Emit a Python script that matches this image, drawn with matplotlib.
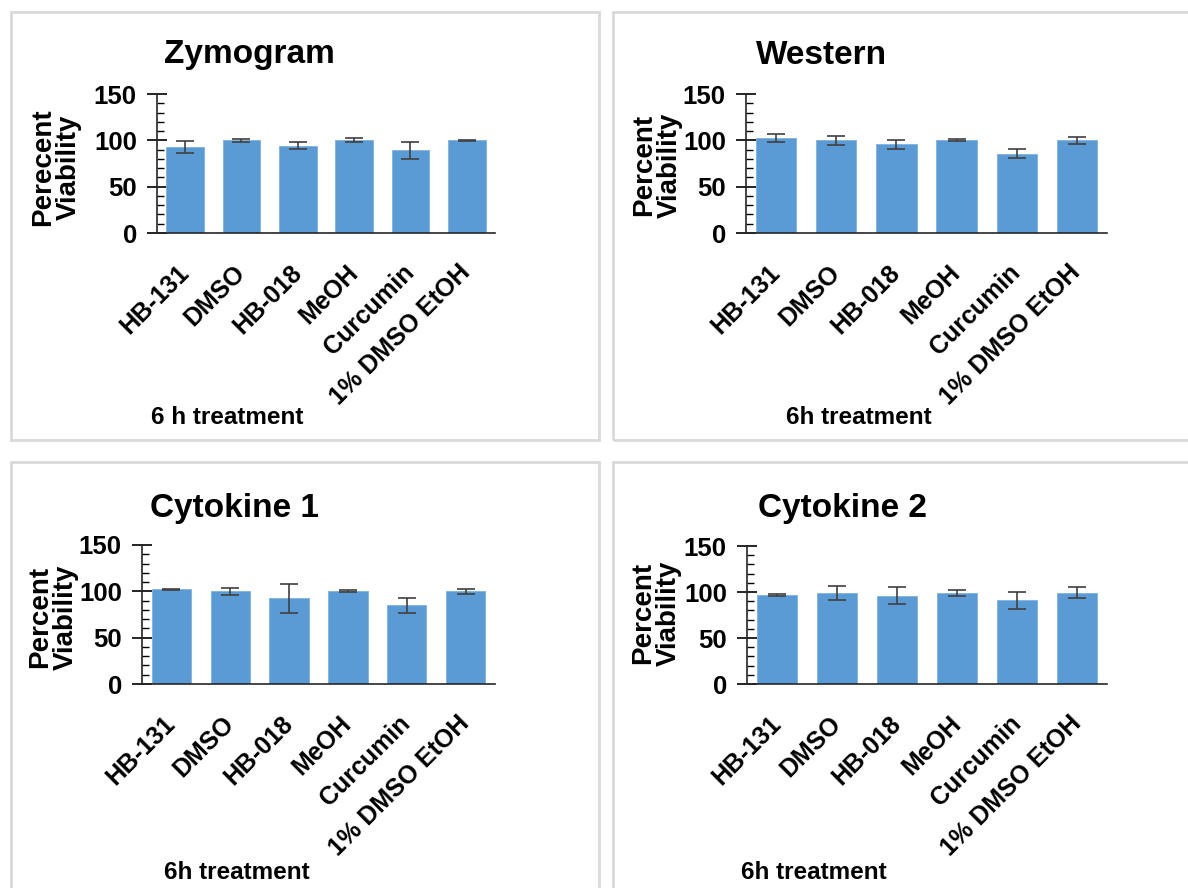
import matplotlib
matplotlib.use('Agg')
import matplotlib.pyplot as plt
from matplotlib.patches import Rectangle
from matplotlib.ticker import MultipleLocator

plt.rcParams['font.family'] = ['Liberation Sans', 'DejaVu Sans']
plt.rcParams['font.weight'] = 'bold'

treatments = ['HB-131', 'DMSO', 'HB-018', 'MeOH', 'Curcumin', '1% DMSO EtOH']

zymo_mean = [92.8, 100, 94.2, 100, 89.3, 100]
zymo_err = [7, 1.5, 4, 2, 9, 0.3]
western_mean = [102.8, 100, 95.7, 100, 85.6, 100]
western_err = [4.3, 4.7, 4.7, 1, 4.7, 4]
cyto1_mean = [102.4, 100, 92.3, 100, 85.1, 100]
cyto1_err = [0.5, 3.6, 16, 1, 8, 2.5]
cyto2_mean = [97, 99, 96, 99, 91, 99]
cyto2_err = [1, 8, 9, 3.5, 9.5, 6]

W, H = 1188, 888
fig = plt.figure(figsize=(W / 100, H / 100), dpi=100)

def px(x, y):
    return x / W, 1 - y / H

# panel frames (light grey boxes)
for (x0, y0, x1, y1) in [(11, 12, 599, 440), (613, 12, 1195, 440),
                         (11, 462, 599, 895), (613, 462, 1195, 895)]:
    fig.patches.append(Rectangle(px(x0, y1), (x1 - x0) / W, (y1 - y0) / H,
                                 transform=fig.transFigure, fill=False,
                                 edgecolor='#d9d9d9', linewidth=2))

panels = [
    # title, ylabel, xlabel, means, errs, axes box (left, right, top, zero), title pos, ylabel pos, xlabel pos
    ('Zymogram', 'Perecent\nViability', '6 h treatment', zymo_mean, zymo_err,
     (157, 495, 94, 233), (249, 55), (56, 167), (227, 417)),
    ('Western', 'Percent\nViability', '6h treatment', western_mean, western_err,
     (746, 1107, 94, 233), (822, 55), (657, 165), (859, 417)),
    ('Cytokine 1', 'Percent\nViability', '6h treatment', cyto1_mean, cyto1_err,
     (142, 495, 545, 684), (234, 508), (53, 617), (237, 872)),
    ('Cytokine 2', 'Percent\nViability', '6h treatment', cyto2_mean, cyto2_err,
     (747, 1107, 546, 684), (843, 508), (656, 613), (814, 872)),
]

for title, ylab, xlab, means, errs, box, tpos, ypos, xpos in panels:
    l, r, t, z = box
    ax = fig.add_axes([l / W, 1 - z / H, (r - l) / W, (z - t) / H])
    x = range(len(treatments))
    ax.bar(x, means, width=0.67, color='#5b9bd5', edgecolor='#7fb1e0', linewidth=0.6, zorder=2)
    ax.errorbar(x, means, yerr=errs, fmt='none', ecolor='#404040',
                elinewidth=1.2, capsize=6.5, capthick=1.2, zorder=3)
    ax.set_xlim(-0.5, len(treatments) - 0.5)
    ax.set_ylim(0, 150)
    ax.yaxis.set_major_locator(MultipleLocator(50))
    ax.yaxis.set_minor_locator(MultipleLocator(10))
    ax.tick_params(axis='y', which='major', direction='inout', length=15, width=1.2,
                   labelsize=18.5, pad=7)
    ax.tick_params(axis='y', which='minor', direction='in', length=5, width=1)
    ax.tick_params(axis='x', length=0, pad=26)
    ax.set_xticks(list(x))
    ax.set_xticklabels(treatments, rotation=45, ha='right', va='center',
                       rotation_mode='anchor', fontsize=18, fontweight='bold')
    for lab in ax.get_yticklabels():
        lab.set_fontweight('bold')
    ax.spines['top'].set_visible(False)
    ax.spines['right'].set_visible(False)
    ax.spines['left'].set_linewidth(1.2)
    ax.spines['bottom'].set_linewidth(1.2)
    ax.spines['left'].set_color('#262626')
    ax.spines['bottom'].set_color('#262626')
    ax.set_facecolor('none')

    fig.text(*px(*tpos), title, ha='center', va='center', fontsize=24, fontweight='bold')
    fig.text(*px(*ypos), ylab, ha='center', va='center', rotation=90,
             multialignment='center', fontsize=20, fontweight='bold', linespacing=1.0)
    fig.text(*px(*xpos), xlab, ha='center', va='center', fontsize=17.5, fontweight='bold')

fig.savefig('out.png', dpi=100, facecolor='white')
